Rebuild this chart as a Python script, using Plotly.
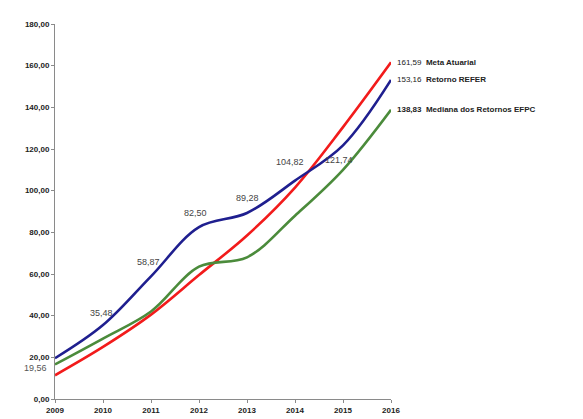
import plotly.graph_objects as go

years = [2009, 2010, 2011, 2012, 2013, 2014, 2015, 2016]
meta_atuarial = [11.4, 25.0, 40.5, 59.5, 78.5, 101.5, 130.5, 161.59]
retorno_refer = [19.56, 35.48, 58.87, 82.50, 89.28, 104.82, 121.74, 153.16]
mediana_efpc = [16.6, 29.0, 42.0, 63.5, 68.0, 88.0, 110.0, 138.83]
series_names = ["Meta Atuarial", "Retorno REFER", "Mediana dos Retornos EFPC"]
y_ticks = [0, 20, 40, 60, 80, 100, 120, 140, 160, 180]

colors = ["#F21B1B", "#1F1F8F", "#4B8B3B"]
series = [meta_atuarial, retorno_refer, mediana_efpc]

fig = go.Figure()
for name, vals, col in zip(series_names, series, colors):
    fig.add_trace(go.Scatter(x=years, y=vals, mode="lines", name=name,
                             line=dict(color=col, width=2.6, shape="spline", smoothing=1.0),
                             hoverinfo="skip", cliponaxis=False))

def fmt(v):
    return f"{v:.2f}".replace(".", ",")

annotations = []
# blue point labels (2010-2015)
offsets = [(-2, 12), (-3, 14), (-4, 14), (0, 15), (-5, 19), (-4, -15)]
for i, (dx, dy) in zip(range(1, 7), offsets):
    annotations.append(dict(x=years[i], y=retorno_refer[i], text=fmt(retorno_refer[i]),
                            showarrow=False, xshift=dx, yshift=dy,
                            font=dict(size=9, color="#444444", family="Liberation Sans")))
# first point label
annotations.append(dict(x=years[0], y=retorno_refer[0], text=fmt(retorno_refer[0]),
                        showarrow=False, xanchor="right", xshift=-6, yshift=-10,
                        font=dict(size=9, color="#555555", family="Liberation Sans")))
# end labels
for name, vals, bold in zip(series_names, series, [False, False, True]):
    v = fmt(vals[-1])
    vtxt = f"<b>{v}</b>" if bold else v
    annotations.append(dict(x=years[-1], y=vals[-1],
                            text=f"{vtxt}  <b>{name}</b>",
                            showarrow=False, xanchor="left", xshift=4,
                            font=dict(size=8, color="#222222", family="Liberation Sans")))

fig.update_layout(
    width=583, height=419,
    margin=dict(l=47, r=200, t=15, b=24),
    paper_bgcolor="white", plot_bgcolor="white",
    showlegend=False,
    separators=",.",
    annotations=annotations,
    xaxis=dict(range=[2009, 2016], tickvals=years, ticktext=[f"<b>{y}</b>" for y in years],
               showgrid=False, zeroline=False, showline=True, linecolor="#8a8a8a", linewidth=1,
               ticks="outside", ticklen=3, tickcolor="#8a8a8a",
               tickfont=dict(size=8, color="#222222", family="Liberation Sans"),
               ticklabelstandoff=0),
    yaxis=dict(range=[0, 180], tickvals=y_ticks,
               ticktext=[f"<b>{fmt(t)}</b>" for t in y_ticks],
               showgrid=False, zeroline=False, showline=True, linecolor="#8a8a8a", linewidth=1,
               ticks="outside", ticklen=3, tickcolor="#8a8a8a",
               tickfont=dict(size=8, color="#222222", family="Liberation Sans")),
)

fig.write_html("out.html")
